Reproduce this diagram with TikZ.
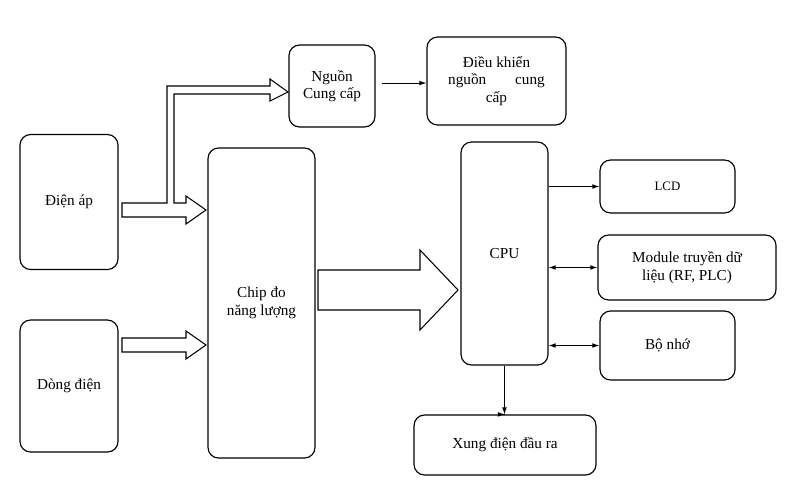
\documentclass[tikz,border=0pt]{standalone}
\usepackage{fontspec}
\setmainfont{Liberation Serif}
\usetikzlibrary{arrows.meta}

\begin{document}
\begin{tikzpicture}[x=0.03cm,y=-0.03cm,
    blk/.style={draw, line width=1pt, rounded corners=9pt, align=center, font=\fontsize{13}{15}\selectfont},
    fat/.style={draw, line width=0.9pt, fill=white},
    link/.style={-{Latex[length=6pt,width=4pt]}, line width=0.7pt},
    both/.style={{Latex[length=6pt,width=4pt]}-{Latex[length=6pt,width=4pt]}, line width=0.7pt}]

    \useasboundingbox (0,0) rectangle (794,497);

    \node[blk, minimum width=98\pgflinewidth] (dienap) at (69,202) [minimum width=2.94cm, minimum height=4.05cm] {Điện áp};
    \node[blk] (dongdien) at (69,386) [minimum width=2.94cm, minimum height=3.96cm] {Dòng điện};
    \node[blk] (chip) at (261.5,303) [minimum width=3.21cm, minimum height=9.3cm] {Chip đo\\năng lượng};
    \node[blk] (nguon) at (332,86) [minimum width=2.58cm, minimum height=2.46cm] {Nguồn\\Cung cấp};
    \node[blk, align=justify, text width=2.9cm] (dieukhien) at (496.5,81) [minimum width=4.17cm, minimum height=2.64cm] {\hfill Điều khiển\hfill\null\\nguồn\hfill cung\\\null\hfill cấp\hfill\null};
    \node[blk] (cpu) at (504.5,253.5) [minimum width=2.61cm, minimum height=6.69cm] {CPU};
    \node[blk] (lcd) at (667.5,186.5) [minimum width=4.05cm, minimum height=1.59cm] {\fontsize{11}{13}\selectfont LCD};
    \node[blk] (module) at (687,267.5) [minimum width=5.34cm, minimum height=1.95cm] {Module truyền dữ\\liệu (RF, PLC)};
    \node[blk] (bonho) at (667.5,345.5) [minimum width=4.05cm, minimum height=2.07cm] {Bộ nhớ};
    \node[blk] (xung) at (505,445) [minimum width=5.46cm, minimum height=1.8cm] {Xung điện đầu ra};

    % hollow arrows
    \draw[fat] (122,203) -- (167,203) -- (167,86) -- (270,86) -- (270,79) -- (288,92) -- (270,101)
        -- (270,94) -- (174,94) -- (174,203) -- (186,203) -- (186,196) -- (206,210) -- (186,224)
        -- (186,217) -- (122,217) -- cycle;
    \draw[fat] (122,338) -- (186,338) -- (186,331) -- (206,345) -- (186,359) -- (186,352) -- (122,352) -- cycle;
    \draw[fat] (318,270) -- (420,270) -- (420,250) -- (458,290) -- (420,330) -- (420,310) -- (318,310) -- cycle;

    % plain connectors
    \draw[link] (nguon.east) ++(6,-3) coordinate (n1) -- (dieukhien.west |- n1);
    \draw[link] (cpu.east |- lcd) -- (lcd.west);
    \draw[both] (cpu.east |- module) -- (module.west);
    \draw[both] (cpu.east |- bonho) -- (bonho.west);
    \draw[link] (xung.north -| cpu) -- (xung.north);
    \draw[link] (cpu.south) -- (xung.north -| cpu.south);

\end{tikzpicture}
\end{document}
